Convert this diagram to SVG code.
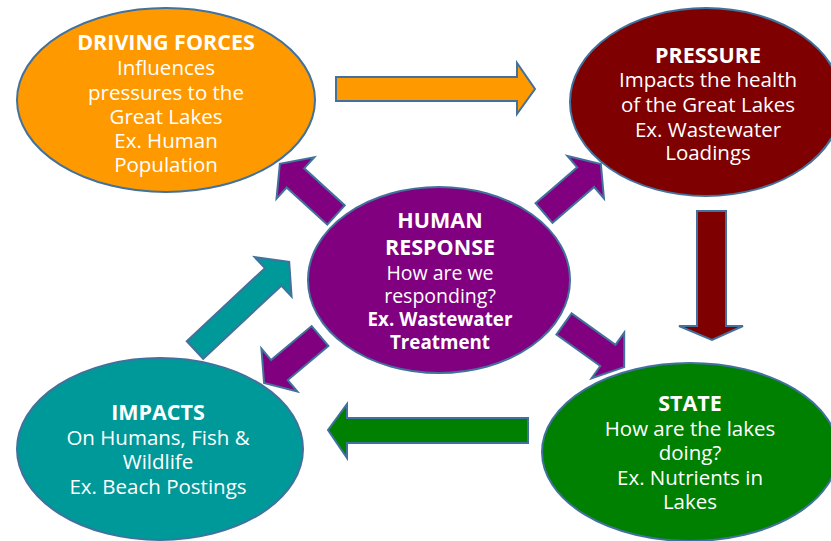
<svg xmlns="http://www.w3.org/2000/svg" width="831" height="541" viewBox="0 0 831 541">
<style>
.n{stroke:#41719C;stroke-width:2}
.a{stroke:#41719C;stroke-width:2;stroke-linejoin:miter}
text{font-family:"Open Sans",Lato,sans-serif;font-size:20.5px;fill:#FFFFFF;text-anchor:middle}
.b{font-weight:bold;font-size:21.5px}
.s{font-size:19.5px}
.bs{font-weight:bold;font-size:18.8px}
</style>
<rect width="831" height="541" fill="#FFFFFF"/>
<g id="driving-forces">
<ellipse class="n" cx="166" cy="100" rx="149" ry="92" fill="#FF9900"/>
<text x="166" y="50" class="b">DRIVING FORCES</text>
<text x="166" y="75">Influences</text>
<text x="166" y="100">pressures to the</text>
<text x="166" y="124">Great Lakes</text>
<text x="166" y="148">Ex. Human</text>
<text x="166" y="172">Population</text>
</g>
<g id="pressure">
<ellipse class="n" cx="706" cy="102" rx="136" ry="94" fill="#7F0000"/>
<text x="708" y="63" class="b">PRESSURE</text>
<text x="708" y="87">Impacts the health</text>
<text x="708" y="112">of the Great Lakes</text>
<text x="708" y="137">Ex. Wastewater</text>
<text x="708" y="160">Loadings</text>
</g>
<g id="human-response">
<ellipse class="n" cx="439" cy="280" rx="131" ry="93" fill="#800080"/>
<text x="440" y="228" class="b">HUMAN</text>
<text x="440" y="255" class="b">RESPONSE</text>
<text x="440" y="280" class="s">How are we</text>
<text x="440" y="303" class="s">responding?</text>
<text x="440" y="326" class="bs">Ex. Wastewater</text>
<text x="440" y="349" class="bs">Treatment</text>
</g>
<g id="impacts">
<ellipse class="n" cx="160" cy="449" rx="143" ry="91" fill="#009999"/>
<text x="158" y="420" class="b">IMPACTS</text>
<text x="158" y="445">On Humans, Fish &amp;</text>
<text x="158" y="469">Wildlife</text>
<text x="158" y="494">Ex. Beach Postings</text>
</g>
<g id="state">
<ellipse class="n" cx="690" cy="452" rx="148" ry="89" fill="#008000"/>
<text x="690" y="411" class="b">STATE</text>
<text x="690" y="436">How are the lakes</text>
<text x="690" y="460">doing?</text>
<text x="690" y="485">Ex. Nutrients in</text>
<text x="690" y="509">Lakes</text>
</g>
<g id="connectors">
<polygon class="a" fill="#FF9900" points="336,77 517,77 517,63 535,89 517,114 517,101 336,101"/>
<polygon class="a" fill="#7F0000" points="697,211 726,211 726,326 743,326 712,340 679,326 697,326"/>
<polygon class="a" fill="#008000" points="528,418 528,443 347,443 347,458 328,430 347,404 347,418"/>
<polygon class="a" fill="#009999" transform="translate(195,350) rotate(-43.1)" points="0,-12 107,-12 107,-27 129,0 107,27 107,12 0,12"/>
<polygon class="a" fill="#800080" transform="translate(336,215) rotate(-137.6)" points="0,-13 55,-13 55,-28 76,0 55,28 55,13 0,13"/>
<polygon class="a" fill="#800080" transform="translate(544,213) rotate(-40.7)" points="0,-13 55,-13 55,-28 75,0 55,28 55,13 0,13"/>
<polygon class="a" fill="#800080" transform="translate(564,324) rotate(35.6)" points="0,-13 54,-13 54,-28 74,0 54,28 54,13 0,13"/>
<polygon class="a" fill="#800080" transform="translate(320,336) rotate(140)" points="0,-13 53,-13 53,-28 73,0 53,28 53,13 0,13"/>
</g>
</svg>
